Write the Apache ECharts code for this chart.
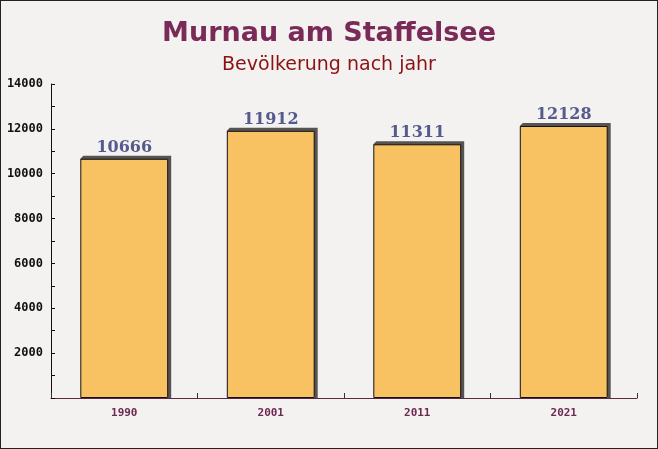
<!DOCTYPE html>
<html><head><meta charset="utf-8">
<script src="https://cdn.jsdelivr.net/npm/echarts@6/dist/echarts.min.js"></script>
<style>
html,body{margin:0;padding:0;background:#f4f1f1;}
#c{width:656px;height:447px;border:1px solid #222;background:#f4f1f1;}
</style></head>
<body><div id="c"></div>
<script>
const categories = ['1990','2001','2011','2021'];
const values = [10666, 11912, 11311, 12128];
const yTicks = {min: 0, max: 14000, step: 2000};
const titleText = 'Murnau am Staffelsee';
const subtitleText = 'Bevölkerung nach jahr';

const chart = echarts.init(document.getElementById('c'));
const depth = 3;
chart.setOption({
  backgroundColor: '#f4f1f1',
  animation: false,
  title: {
    text: titleText, subtext: subtitleText, left: 'center', top: 14, itemGap: 9,
    textStyle: {fontFamily: 'DejaVu Sans', fontWeight: 'bold', fontSize: 27, color: '#7a2a56'},
    subtextStyle: {fontFamily: 'DejaVu Sans', fontSize: 19, color: '#8b1212'}
  },
  grid: {left: 50, right: 20, top: 83, bottom: 50},
  xAxis: {
    type: 'category', data: categories,
    axisLine: {lineStyle: {color: '#5a2a45', width: 1}},
    axisTick: {show: true, inside: true, length: 5, lineStyle: {color: '#333'}},
    axisLabel: {fontFamily: 'DejaVu Sans Mono', fontWeight: 'bold', fontSize: 11, color: '#6b2a50', margin: 10}
  },
  yAxis: {
    type: 'value', min: yTicks.min, max: yTicks.max, interval: yTicks.step,
    axisLine: {show: true, lineStyle: {color: '#111'}},
    axisTick: {show: true, inside: true, length: 4, lineStyle: {color: '#111'}},
    minorTick: {show: true, splitNumber: 2, length: 4, lineStyle: {color: '#111'}},
    splitLine: {show: false},
    axisLabel: {fontFamily: 'DejaVu Sans Mono', fontWeight: 'bold', fontSize: 12, color: '#111', margin: 8,
      formatter: v => v === 0 ? '' : String(v)}
  },
  series: [{
    type: 'custom', z: 1, silent: true,
    data: values.map((v, i) => [i, v]),
    renderItem: (params, api) => {
      const top = api.coord([api.value(0), api.value(1)]);
      const base = api.coord([api.value(0), 0]);
      const w = api.size([1, 0])[0] * 0.6;
      const x0 = top[0] - w / 2, x1 = top[0] + w / 2, y0 = top[1], yb = base[1];
      return {type: 'polygon', shape: {points: [
        [x0, y0], [x0 + depth, y0 - depth], [x1 + depth, y0 - depth], [x1 + depth, yb], [x1, yb]
      ]}, style: {fill: '#585353'}};
    }
  }, {
    type: 'bar', z: 2, data: values, barWidth: '60%',
    itemStyle: {color: '#f8c262', borderColor: '#111', borderWidth: 1},
    label: {show: true, position: 'top', distance: 3,
      fontFamily: 'DejaVu Serif', fontWeight: 'bold', fontSize: 16, color: '#545a8c'}
  }]
});
</script></body></html>
